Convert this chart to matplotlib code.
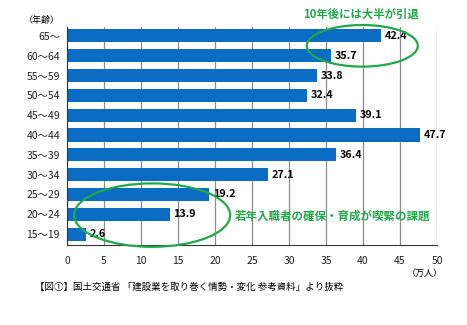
import matplotlib as mpl
import numpy as np
from matplotlib import pyplot as plt
from matplotlib.patches import Ellipse

mpl.rcParams['font.family'] = ['Noto Sans CJK JP', 'DejaVu Sans']

age_groups = ['65～', '60～64', '55～59', '50～54', '45～49', '40～44',
              '35～39', '30～34', '25～29', '20～24', '15～19']
workers = [42.4, 35.7, 33.8, 32.4, 39.1, 47.7, 36.4, 27.1, 19.2, 13.9, 2.6]
x_ticks = [0, 5, 10, 15, 20, 25, 30, 35, 40, 45, 50]

bar_color = '#0a6cc2'
note_color = '#21a84a'

fig = plt.figure(figsize=(4.67, 3.25), dpi=100)
ax = fig.add_axes([0.1435, 0.246, 0.7923, 0.671])

y = np.arange(len(age_groups))
ax.barh(y, workers, height=0.66, color=bar_color, zorder=2)
for yi, v in zip(y, workers):
    ax.text(v + 0.5, yi, f'{v:.1f}', va='center', ha='left',
            fontsize=7.8, fontweight='bold', color='black', zorder=4)

ax.set_xlim(0, 50)
ax.set_ylim(len(age_groups) - 0.45, -0.45)
ax.set_xticks(x_ticks)
ax.set_yticks(y)
ax.set_yticklabels(age_groups)
ax.tick_params(axis='both', length=0, labelsize=7.5, colors='#222222')
ax.tick_params(axis='x', pad=8)
ax.tick_params(axis='y', pad=5)
ax.grid(axis='x', color='#8c8c8c', linewidth=0.9, zorder=1)
for side in ['top', 'right']:
    ax.spines[side].set_visible(False)
ax.spines['left'].set_color('#333333')
ax.spines['bottom'].set_color('#333333')

# circled notes
ax.add_patch(Ellipse((39.9, 0.5), 15.0, 2.1, fill=False, edgecolor=note_color,
                     linewidth=1.6, zorder=5, clip_on=False))
ax.add_patch(Ellipse((11.5, 9.04), 21.1, 3.2, fill=False, edgecolor=note_color,
                     linewidth=1.6, zorder=5, clip_on=False))

fig.text(361 / 467, 1 - 14 / 325, '10年後には大半が引退', ha='center', va='center',
         fontsize=8.2, fontweight='bold', color=note_color)
fig.text(235 / 467, 1 - 216 / 325, '若年入職者の確保・育成が喫緊の課題', ha='left',
         va='center', fontsize=8.3, fontweight='bold', color=note_color)

fig.text(42 / 467, 1 - 20 / 325, '（年齢）', ha='center', va='center', fontsize=6.5)
fig.text(425 / 467, 1 - 273 / 325, '（万人）', ha='center', va='center', fontsize=6.5)
fig.text(35 / 467, 1 - 287 / 325, '【図①】国土交通省 「建設業を取り巻く情勢・変化 参考資料」より抜粋',
         ha='left', va='center', fontsize=6.8)

fig.savefig('out.png', dpi=100)
